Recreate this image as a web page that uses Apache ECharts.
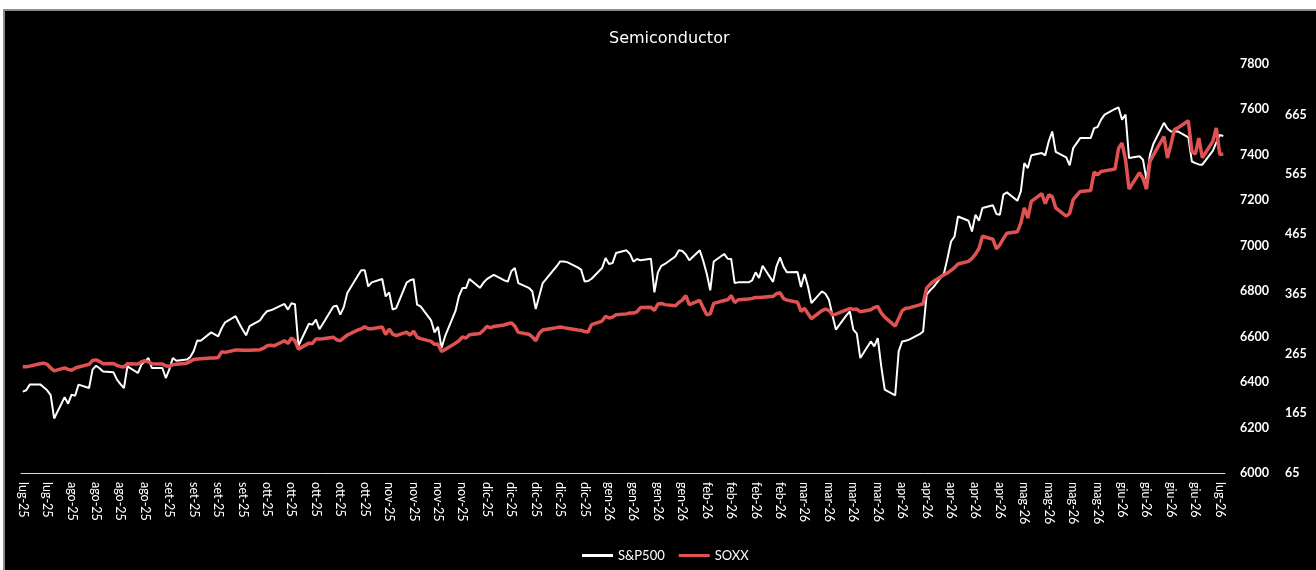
<!DOCTYPE html>
<html>
<head>
<meta charset="utf-8">
<title>Semiconductor</title>
<script src="https://cdn.jsdelivr.net/npm/echarts@6/dist/echarts.min.js"></script>
<style>
  html, body { margin: 0; padding: 0; background: #fff; }
  #chart { width: 1316px; height: 570px; }
</style>
</head>
<body>
<div id="chart"></div>
<script>
// one label per weekly tick (Wednesdays, from 23 Jul 2025)
const tickLabels = [
  'lug-25', 'lug-25',
  'ago-25', 'ago-25', 'ago-25', 'ago-25',
  'set-25', 'set-25', 'set-25', 'set-25',
  'ott-25', 'ott-25', 'ott-25', 'ott-25', 'ott-25',
  'nov-25', 'nov-25', 'nov-25', 'nov-25',
  'dic-25', 'dic-25', 'dic-25', 'dic-25', 'dic-25',
  'gen-26', 'gen-26', 'gen-26', 'gen-26',
  'feb-26', 'feb-26', 'feb-26', 'feb-26',
  'mar-26', 'mar-26', 'mar-26', 'mar-26',
  'apr-26', 'apr-26', 'apr-26', 'apr-26', 'apr-26',
  'mag-26', 'mag-26', 'mag-26', 'mag-26',
  'giu-26', 'giu-26', 'giu-26', 'giu-26',
  'lug-26'
];

// weekday closes, one row per week (Wed Thu Fri Mon Tue)
const spx = [
  6358, 6364, 6389, 6390, 6377,
  6364, 6343, 6240, 6334, 6305,
  6345, 6340, 6389, 6374, 6455,
  6472, 6461, 6447, 6443, 6411,
  6391, 6374, 6469, 6440, 6477,
  6491, 6506, 6462, 6462, 6418,
  6456, 6506, 6494, 6499, 6510,
  6537, 6583, 6582, 6619, 6610,
  6601, 6637, 6663, 6690, 6659,
  6632, 6606, 6646, 6672, 6695,
  6712, 6716, 6722, 6744, 6719,
  6747, 6743, 6560, 6657, 6653,
  6675, 6633, 6657, 6733, 6736,
  6697, 6730, 6792, 6868, 6892,
  6892, 6821, 6839, 6854, 6777,
  6795, 6719, 6726, 6838, 6848,
  6853, 6741, 6733, 6672, 6619,
  6643, 6550, 6601, 6713, 6779,
  6814, 6814, 6854, 6815, 6837,
  6853, 6863, 6872, 6848, 6842,
  6888, 6902, 6836, 6815, 6800,
  6722, 6779, 6836, 6892, 6910,
  6931, 6931, 6928, 6905, 6895,
  6843, 6845, 6855, 6902, 6946,
  6920, 6924, 6968, 6980, 6964,
  6930, 6942, 6936, 6943, 6795,
  6883, 6912, 6920, 6953, 6980,
  6977, 6962, 6936, 6980, 6933,
  6877, 6804, 6931, 6964, 6943,
  6942, 6836, 6839, 6839, 6848,
  6883, 6858, 6912, 6841, 6911,
  6949, 6907, 6883, 6885, 6819,
  6876, 6821, 6748, 6799, 6789,
  6763, 6695, 6631, 6694, 6711,
  6631, 6613, 6506, 6579, 6557,
  6594, 6469, 6367, 6342, 6535,
  6579, 6582, 6587, 6611, 6623,
  6785, 6804, 6819, 6880, 6946,
  7019, 7041, 7129, 7110, 7063,
  7137, 7110, 7166, 7178, 7140,
  7137, 7225, 7235, 7198, 7239,
  7364, 7342, 7398, 7408, 7398,
  7460, 7503, 7413, 7389, 7354,
  7430, 7452, 7474, 7474, 7518,
  7523, 7555, 7577, 7602, 7609,
  7555, 7577, 7386, 7394, 7379,
  7291, 7401, 7449, 7541, 7516,
  7503, 7503, 7503, 7477, 7371,
  7364, 7358, 7357, 7418, 7454,
  7488, 7483
];

const soxx = [
  243, 243, 244, 248, 249,
  247, 241, 236, 241, 238.5,
  237, 240.5, 242.5, 247, 253.5,
  254.5, 252, 248, 248.5, 245,
  243.5, 242.5, 248, 247.5, 251,
  253, 251, 248, 247.5, 244.5,
  243.5, 246.5, 247, 249, 252,
  255, 256, 256.5, 257.5, 257.5,
  258.5, 268, 267, 271, 271,
  270.5, 270.5, 270.5, 271.5, 274,
  278, 279, 278, 286.5, 282,
  291, 286.5, 272.5, 282.5, 282,
  289.5, 289.5, 290, 292.5, 288,
  286.5, 291.5, 296, 304.5, 306.5,
  310, 306.5, 306.5, 309.5, 297,
  306, 297.5, 295, 301, 296,
  302.5, 292.5, 290, 285.5, 280.5,
  281, 268.5, 272, 282.5, 286.5,
  293, 291, 296.5, 298.5, 304,
  310.5, 308, 310.5, 313, 315,
  316.5, 311, 300.5, 297.5, 293,
  286.5, 299, 304.5, 307.5, 308.5,
  309.5, 308.5, 307.5, 304.5, 304,
  302, 301, 313.5, 319.5, 327.5,
  324.5, 326, 330, 331.5, 333,
  333, 335, 342, 342.5, 337.5,
  348, 349, 347, 345, 350.5,
  354.5, 362, 347, 354, 341.5,
  330, 331.5, 349, 354, 355,
  362, 350.5, 355, 356.5, 357.5,
  359, 359, 359.5, 361, 365.5,
  367, 357, 354.5, 351, 335.5,
  341, 332, 323.5, 337, 339.5,
  337.5, 330, 331, 338, 340.5,
  339, 339.5, 335, 338.5, 342,
  344, 333, 326, 311, 324,
  337, 341, 341.5, 346.5, 348.5,
  374.5, 381, 386, 397, 400,
  404.5, 409, 415, 419.5, 424.5,
  431.5, 441, 461.5, 456.5, 440.5,
  447.5, 457.5, 466.5, 469, 483.5,
  509, 492, 520, 533, 516,
  531, 528, 509, 495, 500,
  523, 530, 536.5, 538, 569,
  564.5, 570, 571, 574, 609,
  617.5, 589.5, 540.5, 568, 558.5,
  540.5, 587, 598, 628.5, 592.5,
  615, 640, 643, 655, 603.5,
  599, 626, 593, 620.5, 643,
  599, 599
];

// one category per calendar day (date axis), weekends left empty
const dayCount = 345;
const categories = [];
const spxDaily = [];
const soxxDaily = [];
let k = 0;
for (let i = 0; i < dayCount; i++) {
  categories.push(tickLabels[Math.floor(i / 7)]);
  const dow = i % 7; // 0 = Wednesday
  if (dow === 3 || dow === 4) {
    spxDaily.push(null);
    soxxDaily.push(null);
  } else {
    spxDaily.push(spx[k]);
    soxxDaily.push(soxx[k]);
    k++;
  }
}

const chart = echarts.init(document.getElementById('chart'));

const option = {
  backgroundColor: '#000',
  animation: false,
  textStyle: { fontFamily: 'Lato, "Open Sans", sans-serif' },
  title: {
    text: 'Semiconductor',
    left: 604,
    top: 26,
    textStyle: { color: '#fff', fontSize: 16, fontWeight: 'normal', fontFamily: '"DejaVu Sans", sans-serif' }
  },
  legend: {
    data: ['S&P500', 'SOXX'],
    left: 582,
    top: 549,
    padding: 0,
    icon: 'rect',
    itemWidth: 31,
    itemHeight: 3,
    itemGap: 14,
    textStyle: { color: '#fff', fontSize: 13, fontWeight: 'normal' }
  },
  grid: { left: 21, right: 91, top: 64, bottom: 97, outerBoundsMode: 'none' },
  xAxis: {
    type: 'category',
    data: categories,
    boundaryGap: true,
    axisLine: { lineStyle: { color: '#d9d9d9', width: 1 } },
    axisTick: { interval: 6, length: 5, lineStyle: { color: '#d9d9d9' } },
    axisLabel: { interval: 6, rotate: -90, color: '#fff', fontSize: 12.5, margin: 9 },
    splitLine: { show: false }
  },
  yAxis: [
    {
      type: 'value',
      position: 'right',
      min: 6000,
      max: 7800,
      interval: 200,
      axisLine: { show: false },
      axisTick: { show: false },
      splitLine: { show: false },
      axisLabel: {
        color: '#fff', fontSize: 12.5, fontWeight: 'bold', margin: 15,
        formatter: (v) => String(v)
      }
    },
    {
      type: 'value',
      position: 'right',
      offset: 45,
      min: 65,
      max: 750,
      interval: 100,
      axisLine: { show: false },
      axisTick: { show: false },
      splitLine: { show: false },
      axisLabel: {
        color: '#fff', fontSize: 12.5, fontWeight: 'bold', margin: 15, showMaxLabel: false,
        formatter: (v) => String(v)
      }
    }
  ],
  graphic: [
    { type: 'rect', silent: true, shape: { x: 0, y: 0, width: 1316, height: 9 }, style: { fill: '#fff' } },
    { type: 'rect', silent: true, shape: { x: 0, y: 0, width: 3, height: 570 }, style: { fill: '#fff' } },
    { type: 'rect', silent: true, shape: { x: 3, y: 9, width: 1313, height: 2 }, style: { fill: '#8c8c8c' } },
    { type: 'rect', silent: true, shape: { x: 3, y: 9, width: 2, height: 561 }, style: { fill: '#8c8c8c' } }
  ],
  series: [
    {
      name: 'S&P500',
      type: 'line',
      yAxisIndex: 0,
      data: spxDaily,
      connectNulls: true,
      symbol: 'none',
      lineStyle: { color: '#ffffff', width: 2 },
      itemStyle: { color: '#ffffff' }
    },
    {
      name: 'SOXX',
      type: 'line',
      yAxisIndex: 1,
      data: soxxDaily,
      connectNulls: true,
      symbol: 'none',
      lineStyle: { color: '#e05252', width: 3.5 },
      itemStyle: { color: '#e05252' }
    }
  ]
};

chart.setOption(option);
</script>
</body>
</html>
